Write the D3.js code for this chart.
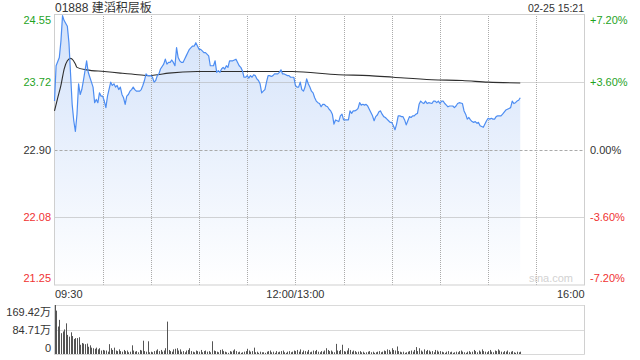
<!DOCTYPE html>
<html><head><meta charset="utf-8">
<script src="https://cdn.jsdelivr.net/npm/d3@7"></script>
<style>body{margin:0;background:#fff}svg{display:block}text{font-family:"Liberation Sans",Arial,"Noto Sans CJK SC",sans-serif}</style>
</head><body><svg id="c" width="640" height="360"></svg>
<script>
const title = "01888 建滔积层板";
const stamp = "02-25 15:21";
const priceTicks = [24.55, 23.72, 22.90, 22.08, 21.25];
const pctLabels = ["+7.20%", "+3.60%", "0.00%", "-3.60%", "-7.20%"];
const tickColors = ["#1fa31f", "#1fa31f", "#333", "#f03232", "#f03232"];
const timeLabels = ["09:30", "12:00/13:00", "16:00"];
const timeLabelMinutes = [0, 150, 330];
const gridMinutes = [30, 60, 90, 120, 150, 180, 210, 240, 270, 300];
const volTicks = [169.42, 84.71, 0];
const volTickLabels = ["169.42万", "84.71万", "0"];

const priceMinutes = [
0,1,3,4,5,6,8,9,10,11,12,13,14,15,16,17,18,19,20,21,22,23,24,25,26,27,28,29,30,31,32,33,35,36,37,38,39,40,41,42,43,44,45,46,47,48,49,50,51,52,53,54,55,56,57,58,59,
60,61,62,63,64,65,66,68,69,70,71,72,73,74,75,76,77,78,79,80,81,82,83,84,85,86,87,88,89,90,91,92,93,94,96,97,98,99,100,101,102,103,104,105,106,107,108,109,110,111,113,114,115,116,117,118,
119,120,121,122,123,124,125,126,127,128,129,130,131,132,133,134,135,136,137,139,140,141,142,143,144,145,146,147,148,149,150,151,152,153,154,155,156,157,158,159,160,161,162,163,164,165,166,167,168,169,170,171,172,173,174,175,176,
177,178,179,180,182,183,184,185,186,187,188,189,190,191,192,193,194,195,196,197,198,199,200,201,202,203,204,205,206,207,208,209,210,211,212,213,214,215,216,217,218,219,220,221,222,223,224,225,226,227,228,229,230,231,232,233,235,
236,237,238,239,240,241,242,243,244,245,246,247,248,249,250,251,252,254,255,256,257,258,259,260,261,262,263,264,265,266,267,268,269,270,271,272,273,274,275,276,277,278,279,281,282,283,284,285,286,287,288,289,290];
const prices = [
23.49,23.92,24.02,24.22,24.53,24.47,24.40,24.20,23.82,23.45,
23.25,23.12,23.33,23.70,23.57,23.63,23.74,23.86,23.98,23.84,
23.78,23.72,23.66,23.47,23.51,23.47,23.59,23.55,23.55,23.49,
23.41,23.55,23.72,23.68,23.70,23.66,23.68,23.63,23.66,23.57,
23.53,23.45,23.55,23.57,23.61,23.63,23.66,23.63,23.61,23.61,
23.61,23.63,23.68,23.74,23.82,23.80,23.80,
23.80,23.78,23.72,23.74,23.80,23.82,23.88,23.94,24.00,23.94,
23.96,23.96,23.99,23.96,23.92,24.14,24.02,23.98,23.96,23.96,
24.00,24.04,24.08,24.12,24.14,24.16,24.16,24.20,24.16,24.12,
24.12,24.10,24.08,24.08,24.04,23.92,23.92,23.92,23.98,23.84,
23.86,23.84,23.88,23.90,23.88,23.92,23.90,23.98,23.98,23.98,
24.00,23.96,23.92,23.90,23.86,23.78,
23.78,23.80,23.77,23.80,23.78,23.81,23.80,23.76,23.74,23.70,
23.59,23.61,23.63,23.72,23.80,23.80,23.79,23.80,23.82,23.82,
23.84,23.87,23.82,23.82,23.81,23.80,23.80,23.78,23.78,23.78,
23.68,23.66,23.66,23.72,23.63,23.61,23.66,23.76,23.70,23.66,
23.61,23.59,23.53,23.49,23.47,23.46,23.42,23.45,23.45,23.43,
23.42,23.39,23.37,23.33,23.21,23.26,23.25,
23.24,23.31,23.33,23.26,23.26,23.26,23.37,23.34,23.37,23.37,
23.38,23.40,23.47,23.44,23.45,23.44,23.45,23.43,23.39,23.35,
23.31,23.25,23.30,23.32,23.36,23.37,23.33,23.30,23.29,23.27,
23.25,23.23,23.23,23.19,23.14,23.21,23.31,23.31,23.30,23.30,
23.26,23.20,23.25,23.30,23.29,23.31,23.31,23.33,23.34,23.45,
23.49,23.47,23.46,23.49,23.46,23.47,23.46,
23.49,23.49,23.47,23.49,23.46,23.49,23.49,23.46,23.44,23.42,
23.43,23.43,23.43,23.41,23.43,23.46,23.47,23.46,23.37,23.33,
23.27,23.29,23.26,23.24,23.23,23.24,23.22,23.23,23.19,23.18,
23.17,23.21,23.25,23.28,23.27,23.28,23.27,23.27,23.30,23.31,
23.31,23.31,23.33,23.38,23.39,23.40,23.41,23.49,23.46,23.47,
23.49,23.50,23.53];

const avgMinutes = [0,2,4,6,8,10,11,13,14,20,31,41,52,59,64,71,89,118,148,177,196,211,235,254,270,290];
const avgPrices = [23.37,23.53,23.68,23.88,23.98,24.01,24.00,23.94,23.90,23.87,23.85,23.83,23.81,23.80,23.81,23.83,23.85,23.85,23.85,23.81,23.80,23.78,23.75,23.74,23.72,23.71];

const volumes = [
169.4,150,95,118,72,78,85,106,66,60,
75,62,52,55,55,58,32,38,36,34,
36,25,30,22,20,18,22,16,20,12,
14,12,12,8,34,20,14,22,12,10,
16,10,8,14,10,12,6,8,30,12,
8,10,6,14,12,46,10,8,44,6,
8,6,10,12,16,10,14,8,12,20,
112,14,10,8,16,18,20,12,16,8,
10,6,12,14,20,10,8,6,12,10,
8,14,6,10,12,8,10,6,44,12,
10,8,6,14,16,10,8,6,4,10,
8,12,16,10,6,8,4,6,8,10,
18,12,8,10,22,6,8,4,8,6,
6,4,8,10,12,6,8,4,10,6,
8,10,12,6,4,8,10,6,8,12,
10,14,8,16,6,12,10,8,14,6,
8,12,10,14,8,6,10,8,12,20,
14,10,12,8,6,35,12,10,14,32,
10,8,12,20,14,8,12,10,6,8,
10,6,8,4,6,8,10,6,8,4,
6,8,10,6,8,12,10,16,14,8,
20,14,12,26,10,8,6,8,4,6,
8,10,12,8,14,24,10,20,12,8,
16,10,14,12,8,10,6,14,12,8,
10,8,6,4,8,10,6,8,4,6,
8,6,10,12,8,6,4,8,10,6,
8,14,10,6,12,8,16,10,8,6,
10,14,8,6,12,10,16,12,8,6,
10,8,12,6,8,10,6,4,8,6,8];

const svg = d3.select("#c");
const L = 54.5, R = 584.5, T = 14, B = 285;
const VT = 305, VB = 354;
const x = d3.scaleLinear().domain([0, 330]).range([L, R]);
const y = d3.scaleLinear().domain([21.25, 24.55]).range([B, T]);
const yv = d3.scaleLinear().domain([0, 169.42]).range([VB, VT]);

const defs = svg.append("defs");
const grad = defs.append("linearGradient").attr("id", "fillg")
  .attr("gradientUnits", "userSpaceOnUse").attr("x1", 0).attr("x2", 0).attr("y1", T).attr("y2", B);
grad.append("stop").attr("offset", "0").attr("stop-color", "#d3e2fa");
grad.append("stop").attr("offset", "1").attr("stop-color", "#ffffff");

const pts = priceMinutes.map((m, i) => [m, prices[i]]);
svg.append("path").datum(pts)
  .attr("fill", "url(#fillg)")
  .attr("d", d3.area().x(d => x(d[0])).y0(B).y1(d => y(d[1])));

// grid
const g = svg.append("g");
gridMinutes.forEach(m => {
  const xx = Math.round(x(m)) + 0.5;
  g.append("line").attr("x1", xx).attr("x2", xx).attr("y1", T).attr("y2", B)
    .attr("stroke", "#aaaaaa").attr("stroke-dasharray", "1,1");
});
priceTicks.slice(1, 4).forEach((p, i) => {
  const yy = Math.round(y(p)) + 0.5;
  g.append("line").attr("x1", L).attr("x2", R).attr("y1", yy).attr("y2", yy)
    .attr("stroke", "#aaaaaa").attr("stroke-dasharray", i === 1 ? "3,2" : "1,1");
});
g.append("rect").attr("x", L).attr("y", T + 0.5).attr("width", R - L).attr("height", B - T - 0.5)
  .attr("fill", "none").attr("stroke", "#cfcfcf");

// avg line
const avgPts = avgMinutes.map((m, i) => [m, avgPrices[i]]);
svg.append("path").datum(avgPts).attr("fill", "none").attr("stroke", "#2e2e2e").attr("stroke-width", 1.1)
  .attr("d", d3.line().x(d => x(d[0])).y(d => y(d[1])).curve(d3.curveMonotoneX));

// price line
svg.append("path").datum(pts).attr("fill", "none").attr("stroke", "#4d8df2").attr("stroke-width", 1.2)
  .attr("stroke-linejoin", "round")
  .attr("d", d3.line().x(d => x(d[0])).y(d => y(d[1])));

// watermark
svg.append("text").attr("x", 573).attr("y", 282).attr("text-anchor", "end")
  .attr("font-size", 11).attr("fill", "#d2d2d2").text("sina.com");

// left / right labels
priceTicks.forEach((p, i) => {
  let yy = y(p);
  if (i === 0) yy = T + 6; else if (i === priceTicks.length - 1) yy = B - 7;
  svg.append("text").attr("x", 51).attr("y", yy + 4).attr("text-anchor", "end")
    .attr("font-size", 11).attr("fill", tickColors[i]).text(p.toFixed(2));
  svg.append("text").attr("x", 590).attr("y", yy + 4).attr("text-anchor", "start")
    .attr("font-size", 11).attr("fill", tickColors[i]).text(pctLabels[i]);
});

// time labels
timeLabels.forEach((t, i) => {
  svg.append("text").attr("x", i === 0 ? L + 0.5 : x(timeLabelMinutes[i]))
    .attr("y", 298).attr("text-anchor", i === 0 ? "start" : (i === 2 ? "end" : "middle"))
    .attr("font-size", 11).attr("fill", "#333").text(t);
});

// title
svg.append("text").attr("x", 55).attr("y", 12).attr("font-size", 12).attr("fill", "#333").text(title);
svg.append("text").attr("x", 584).attr("y", 12).attr("text-anchor", "end").attr("font-size", 10.5).attr("fill", "#333").text(stamp);

// volume panel
const vg = svg.append("g");
[169.42, 84.71].forEach(v => {
  const yy = Math.round(yv(v)) + 0.5;
  vg.append("line").attr("x1", L).attr("x2", R).attr("y1", yy).attr("y2", yy)
    .attr("stroke", "#b4b4b4").attr("stroke-dasharray", "1,1");
});
vg.append("line").attr("x1", L).attr("x2", R).attr("y1", VB + 0.5).attr("y2", VB + 0.5).attr("stroke", "#d8d8d8");
vg.append("line").attr("x1", R).attr("x2", R).attr("y1", VT).attr("y2", VB + 0.5).attr("stroke", "#d0d0d0");
vg.append("line").attr("x1", L).attr("x2", L).attr("y1", VT).attr("y2", VB + 0.5).attr("stroke", "#d0d0d0");
vg.selectAll("rect.v").data(volumes).enter().append("rect")
  .attr("x", (d, i) => Math.round(x(i)) )
  .attr("width", 1)
  .attr("y", d => yv(d))
  .attr("height", d => VB - yv(d))
  .attr("fill", "#555");
volTicks.forEach((v, i) => {
  vg.append("text").attr("x", 51).attr("y", (i === 0 ? yv(v) + 7 : (i === 2 ? yv(v) - 6 : yv(v))) + 4)
    .attr("text-anchor", "end").attr("font-size", 11).attr("fill", "#333").text(volTickLabels[i]);
});
</script></body></html>
